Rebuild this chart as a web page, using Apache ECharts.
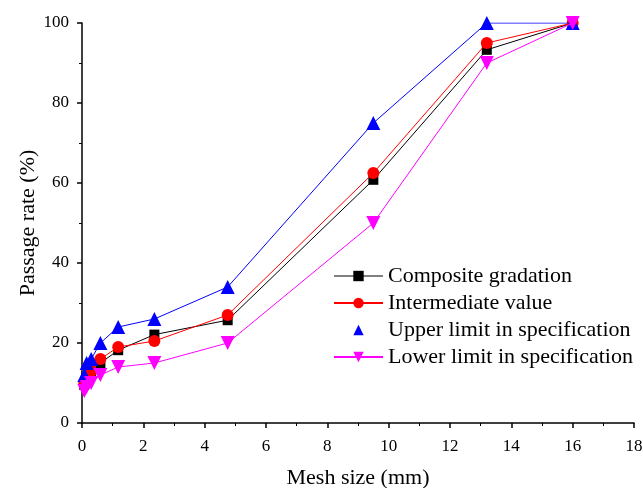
<!DOCTYPE html>
<html><head><meta charset="utf-8">
<script src="https://cdn.jsdelivr.net/npm/echarts@6/dist/echarts.min.js"></script>
<style>html,body{margin:0;padding:0;background:#fff}#c{width:643px;height:488px}</style>
</head><body><div id="c"></div>
<script>
var meshSizes = [0.075, 0.15, 0.3, 0.6, 1.18, 2.36, 4.75, 9.5, 13.2, 16];
var composite = [9.5, 11.5, 12.5, 15.0, 18.2, 22.1, 25.7, 60.8, 93.3, 100];
var intermediate = [10.0, 11.5, 13.0, 16.0, 19.0, 20.5, 27.0, 62.5, 95.0, 100];
var upperLimit = [12.0, 15.0, 16.0, 20.0, 24.0, 26.0, 34.0, 75.0, 100, 100];
var lowerLimit = [8.0, 9.0, 10.0, 12.0, 14.0, 15.0, 20.0, 50.0, 90.0, 100];
var seriesNames = ['Composite gradation', 'Intermediate value', 'Upper limit in specification', 'Lower limit in specification'];
var xTitle = 'Mesh size (mm)';
var yTitle = 'Passage rate (%)';

function pairs(v){ return meshSizes.map(function(x,i){return [x, v[i]];}); }
var font = '"Liberation Serif", "Times New Roman", serif';
var chart = echarts.init(document.getElementById('c'), null, {renderer:'canvas'});
function axisCommon(margin){
  return {
    axisLine:{show:true, onZero:false, lineStyle:{color:'#000', width:1.5}},
    axisTick:{show:true, inside:false, length:5, lineStyle:{color:'#000', width:1.5}},
    minorTick:{show:true, splitNumber:2, length:3, lineStyle:{color:'#000', width:1}},
    splitLine:{show:false},
    axisLabel:{color:'#000', fontFamily:font, fontSize:17, margin:margin}
  };
}
chart.setOption({
  animation:false,
  backgroundColor:'#fff',
  grid:{left:82, right:9, top:23, bottom:65, containLabel:false, outerBoundsMode:'none'},
  xAxis: Object.assign({type:'value', min:0, max:18, interval:2,
    name:xTitle, nameLocation:'middle', nameGap:44, nameMoveOverlap:false,
    nameTextStyle:{color:'#000', fontFamily:font, fontSize:22}}, axisCommon(15)),
  yAxis: Object.assign({type:'value', min:0, max:100, interval:20,
    name:yTitle, nameLocation:'middle', nameGap:43, nameMoveOverlap:false,
    nameTextStyle:{color:'#000', fontFamily:font, fontSize:22}}, axisCommon(13)),
  legend:{
    orient:'vertical', left:333, top:265, padding:0, itemWidth:49, itemHeight:13, itemGap:5,
    textStyle:{color:'#000', fontFamily:font, fontSize:22, padding:[0,0,0,0]},
    data:[
      {name:seriesNames[0], lineStyle:{color:'#808080'}},
      {name:seriesNames[1]},
      {name:seriesNames[2], lineStyle:{opacity:0}},
      {name:seriesNames[3]}
    ]
  },
  series:[
    {name:seriesNames[0], type:'line', data:pairs(composite), symbol:'rect', symbolSize:10,
     itemStyle:{color:'#000'}, lineStyle:{color:'#000', width:1}, z:2},
    {name:seriesNames[1], type:'line', data:pairs(intermediate), symbol:'circle', symbolSize:12,
     itemStyle:{color:'#f00'}, lineStyle:{color:'#f00', width:1}, z:3},
    {name:seriesNames[2], type:'line', data:pairs(upperLimit), symbol:'triangle', symbolSize:14,
     itemStyle:{color:'#00f'}, lineStyle:{color:'#00f', width:1}, z:4},
    {name:seriesNames[3], type:'line', data:pairs(lowerLimit), symbol:'triangle', symbolRotate:180, symbolSize:14,
     itemStyle:{color:'#f0f'}, lineStyle:{color:'#f0f', width:1}, z:5}
  ]
});
</script></body></html>
